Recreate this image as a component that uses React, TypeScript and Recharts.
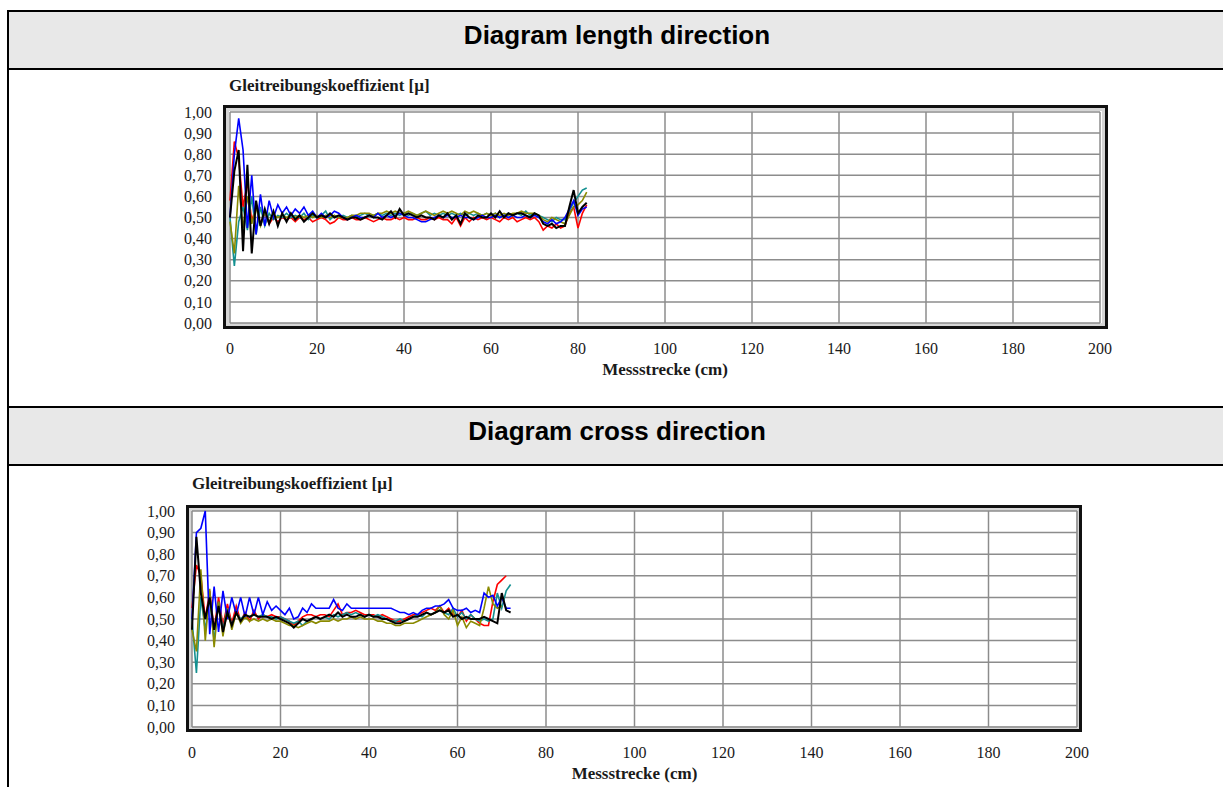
import React from "react";
import { LineChart, Line, XAxis, YAxis, CartesianGrid } from "recharts";

// Gleitreibungskoeffizient, one value per cm of Messstrecke
const lengthBlue = [0.50, 0.80, 0.97, 0.82, 0.45, 0.70, 0.42, 0.61, 0.46, 0.58, 0.50, 0.56, 0.52, 0.55, 0.51, 0.54, 0.52, 0.55, 0.51, 0.53, 0.50, 0.52, 0.50, 0.51, 0.53, 0.52, 0.50, 0.49, 0.50, 0.51, 0.50, 0.50, 0.51, 0.50, 0.52, 0.50, 0.51, 0.50, 0.51, 0.52, 0.51, 0.50, 0.50, 0.49, 0.48, 0.48, 0.49, 0.50, 0.51, 0.50, 0.51, 0.50, 0.50, 0.51, 0.50, 0.50, 0.49, 0.50, 0.51, 0.50, 0.50, 0.51, 0.50, 0.51, 0.50, 0.51, 0.50, 0.50, 0.51, 0.50, 0.51, 0.50, 0.48, 0.47, 0.49, 0.47, 0.48, 0.50, 0.54, 0.58, 0.51, 0.54, 0.55];
const lengthRed = [0.58, 0.86, 0.78, 0.55, 0.67, 0.48, 0.56, 0.47, 0.52, 0.47, 0.50, 0.48, 0.50, 0.49, 0.50, 0.48, 0.50, 0.49, 0.50, 0.48, 0.49, 0.50, 0.49, 0.47, 0.48, 0.50, 0.49, 0.49, 0.50, 0.49, 0.49, 0.50, 0.49, 0.48, 0.49, 0.50, 0.49, 0.49, 0.50, 0.49, 0.50, 0.49, 0.49, 0.50, 0.49, 0.49, 0.50, 0.49, 0.50, 0.49, 0.49, 0.47, 0.50, 0.46, 0.50, 0.48, 0.50, 0.49, 0.50, 0.49, 0.50, 0.49, 0.48, 0.50, 0.49, 0.50, 0.48, 0.49, 0.50, 0.49, 0.50, 0.48, 0.44, 0.46, 0.45, 0.47, 0.45, 0.46, 0.52, 0.55, 0.45, 0.52, 0.56];
const lengthBlack = [0.50, 0.72, 0.82, 0.34, 0.75, 0.33, 0.58, 0.46, 0.54, 0.47, 0.53, 0.46, 0.52, 0.48, 0.52, 0.49, 0.51, 0.48, 0.50, 0.52, 0.50, 0.51, 0.50, 0.52, 0.50, 0.51, 0.50, 0.49, 0.50, 0.50, 0.49, 0.50, 0.51, 0.50, 0.50, 0.49, 0.51, 0.53, 0.50, 0.54, 0.51, 0.52, 0.51, 0.50, 0.51, 0.50, 0.50, 0.49, 0.51, 0.50, 0.52, 0.49, 0.51, 0.47, 0.52, 0.50, 0.49, 0.51, 0.50, 0.50, 0.52, 0.50, 0.53, 0.50, 0.52, 0.51, 0.52, 0.52, 0.51, 0.50, 0.52, 0.51, 0.47, 0.46, 0.47, 0.45, 0.46, 0.46, 0.55, 0.63, 0.52, 0.55, 0.57];
const lengthTeal = [0.50, 0.27, 0.48, 0.55, 0.44, 0.60, 0.42, 0.55, 0.46, 0.52, 0.49, 0.51, 0.50, 0.52, 0.50, 0.51, 0.50, 0.52, 0.49, 0.51, 0.50, 0.51, 0.53, 0.49, 0.51, 0.50, 0.51, 0.50, 0.51, 0.50, 0.51, 0.52, 0.51, 0.51, 0.52, 0.51, 0.52, 0.51, 0.52, 0.51, 0.52, 0.51, 0.52, 0.51, 0.52, 0.53, 0.51, 0.52, 0.51, 0.52, 0.51, 0.52, 0.51, 0.52, 0.51, 0.52, 0.51, 0.52, 0.51, 0.52, 0.51, 0.52, 0.50, 0.51, 0.52, 0.51, 0.52, 0.51, 0.53, 0.51, 0.52, 0.51, 0.50, 0.49, 0.48, 0.50, 0.49, 0.49, 0.53, 0.57, 0.60, 0.63, 0.64];
const lengthOlive = [0.48, 0.33, 0.65, 0.45, 0.60, 0.47, 0.55, 0.46, 0.52, 0.48, 0.51, 0.50, 0.51, 0.50, 0.51, 0.50, 0.51, 0.50, 0.51, 0.50, 0.51, 0.50, 0.51, 0.50, 0.51, 0.50, 0.50, 0.50, 0.51, 0.51, 0.52, 0.52, 0.52, 0.51, 0.52, 0.52, 0.53, 0.52, 0.53, 0.52, 0.52, 0.53, 0.52, 0.51, 0.52, 0.53, 0.52, 0.51, 0.52, 0.53, 0.52, 0.53, 0.52, 0.51, 0.53, 0.52, 0.53, 0.52, 0.51, 0.52, 0.51, 0.52, 0.51, 0.52, 0.51, 0.52, 0.52, 0.53, 0.52, 0.52, 0.52, 0.51, 0.49, 0.48, 0.50, 0.49, 0.48, 0.47, 0.51, 0.55, 0.56, 0.58, 0.62];

const crossBlue = [0.50, 0.90, 0.92, 1.00, 0.43, 0.65, 0.44, 0.63, 0.50, 0.60, 0.52, 0.60, 0.51, 0.60, 0.52, 0.60, 0.52, 0.58, 0.54, 0.56, 0.54, 0.52, 0.55, 0.50, 0.51, 0.55, 0.53, 0.57, 0.55, 0.55, 0.55, 0.55, 0.59, 0.55, 0.54, 0.57, 0.55, 0.55, 0.55, 0.55, 0.55, 0.55, 0.55, 0.55, 0.55, 0.55, 0.54, 0.53, 0.53, 0.52, 0.53, 0.52, 0.54, 0.55, 0.55, 0.56, 0.56, 0.57, 0.59, 0.55, 0.54, 0.54, 0.55, 0.53, 0.54, 0.53, 0.62, 0.60, 0.61, 0.56, 0.60, 0.55, 0.55];
const crossRed = [0.55, 0.75, 0.70, 0.50, 0.63, 0.45, 0.60, 0.47, 0.57, 0.48, 0.56, 0.49, 0.53, 0.49, 0.54, 0.50, 0.52, 0.51, 0.52, 0.51, 0.51, 0.50, 0.49, 0.47, 0.49, 0.51, 0.52, 0.52, 0.51, 0.52, 0.52, 0.51, 0.54, 0.57, 0.52, 0.53, 0.53, 0.54, 0.53, 0.52, 0.52, 0.52, 0.51, 0.52, 0.51, 0.50, 0.49, 0.49, 0.50, 0.51, 0.52, 0.52, 0.53, 0.54, 0.55, 0.54, 0.56, 0.53, 0.55, 0.52, 0.51, 0.54, 0.49, 0.52, 0.50, 0.48, 0.47, 0.47, 0.58, 0.66, 0.68, 0.70];
const crossBlack = [0.45, 0.88, 0.62, 0.50, 0.60, 0.45, 0.56, 0.44, 0.53, 0.47, 0.53, 0.49, 0.52, 0.51, 0.52, 0.51, 0.51, 0.51, 0.50, 0.51, 0.50, 0.49, 0.48, 0.46, 0.48, 0.50, 0.49, 0.50, 0.51, 0.50, 0.51, 0.52, 0.51, 0.53, 0.51, 0.52, 0.51, 0.51, 0.52, 0.51, 0.52, 0.51, 0.51, 0.50, 0.50, 0.49, 0.48, 0.48, 0.49, 0.50, 0.51, 0.51, 0.52, 0.53, 0.52, 0.53, 0.54, 0.53, 0.54, 0.51, 0.52, 0.50, 0.51, 0.50, 0.50, 0.50, 0.51, 0.50, 0.49, 0.48, 0.62, 0.54, 0.53];
const crossTeal = [0.50, 0.25, 0.60, 0.45, 0.60, 0.40, 0.58, 0.45, 0.55, 0.47, 0.53, 0.50, 0.52, 0.51, 0.52, 0.51, 0.52, 0.51, 0.51, 0.50, 0.51, 0.50, 0.49, 0.48, 0.49, 0.47, 0.49, 0.50, 0.51, 0.50, 0.51, 0.50, 0.52, 0.51, 0.52, 0.53, 0.52, 0.53, 0.52, 0.51, 0.52, 0.51, 0.52, 0.51, 0.50, 0.49, 0.49, 0.50, 0.49, 0.50, 0.51, 0.52, 0.51, 0.53, 0.52, 0.53, 0.54, 0.53, 0.52, 0.55, 0.51, 0.53, 0.50, 0.52, 0.50, 0.49, 0.50, 0.49, 0.50, 0.62, 0.55, 0.63, 0.66];
const crossOlive = [0.45, 0.35, 0.73, 0.40, 0.64, 0.37, 0.58, 0.42, 0.55, 0.45, 0.53, 0.48, 0.51, 0.49, 0.50, 0.49, 0.50, 0.49, 0.50, 0.49, 0.49, 0.48, 0.47, 0.47, 0.46, 0.47, 0.48, 0.49, 0.48, 0.49, 0.49, 0.49, 0.50, 0.49, 0.50, 0.50, 0.51, 0.50, 0.51, 0.50, 0.50, 0.50, 0.49, 0.49, 0.48, 0.48, 0.47, 0.47, 0.48, 0.48, 0.48, 0.49, 0.50, 0.51, 0.52, 0.53, 0.56, 0.52, 0.50, 0.54, 0.47, 0.51, 0.46, 0.49, 0.48, 0.47, 0.55, 0.65, 0.57, 0.55, 0.56];

const xTicks = [0, 20, 40, 60, 80, 100, 120, 140, 160, 180, 200];
const yTicks = [0, 0.1, 0.2, 0.3, 0.4, 0.5, 0.6, 0.7, 0.8, 0.9, 1.0];

const serif = '"Liberation Serif", "Times New Roman", serif';
const sans = '"Liberation Sans", Arial, sans-serif';

const seriesStyle = [
  { key: "red", color: "#ff0000", width: 1.6 },
  { key: "teal", color: "#139090", width: 1.6 },
  { key: "olive", color: "#8a8a00", width: 1.6 },
  { key: "blue", color: "#0000ff", width: 1.6 },
  { key: "black", color: "#000000", width: 2 },
];

function buildRows(s: Record<string, number[]>) {
  const n = Math.max(...Object.values(s).map((a) => a.length));
  return Array.from({ length: n }, (_, i) => {
    const row: Record<string, number | undefined> = { x: i };
    for (const k of Object.keys(s)) row[k] = s[k][i];
    return row;
  });
}

const lengthRows = buildRows({ blue: lengthBlue, red: lengthRed, black: lengthBlack, teal: lengthTeal, olive: lengthOlive });
const crossRows = buildRows({ blue: crossBlue, red: crossRed, black: crossBlack, teal: crossTeal, olive: crossOlive });

const fmt = (v: number) => v.toFixed(2).replace(".", ",");

type PanelProps = {
  rows: any[];
  left: number;
  top: number;
  width: number;
  height: number;
  margin: { top: number; right: number; bottom: number; left: number };
  yWidth: number;
  yTickMargin: number;
  frame: { left: number; top: number; width: number; height: number };
  title: { left: number; top: number };
};

function FrictionPanel(p: PanelProps) {
  const tick = { fill: "#1a1a1a", fontSize: 16, fontFamily: serif };
  return (
    <>
      <div
        style={{
          position: "absolute",
          left: p.title.left,
          top: p.title.top,
          fontFamily: serif,
          fontWeight: "bold",
          fontSize: 17,
          lineHeight: "20px",
          color: "#1a1a1a",
          whiteSpace: "nowrap",
        }}
      >
        Gleitreibungskoeffizient [µ]
      </div>
      <div
        style={{
          position: "absolute",
          left: p.frame.left,
          top: p.frame.top,
          width: p.frame.width,
          height: p.frame.height,
          boxSizing: "border-box",
          border: "3px solid #111",
          boxShadow: "inset 0 0 0 3px #d6d6d6",
        }}
      />
      <div style={{ position: "absolute", left: p.left, top: p.top }}>
        <LineChart width={p.width} height={p.height} data={p.rows} margin={p.margin}>
          <CartesianGrid stroke="#8c8c8c" strokeWidth={1.5} />
          <XAxis
            dataKey="x"
            type="number"
            domain={[0, 200]}
            ticks={xTicks}
            axisLine={false}
            tickLine={false}
            tickMargin={14}
            height={60}
            tick={tick}
            label={{
              value: "Messstrecke (cm)",
              position: "insideBottom",
              offset: 8,
              style: { fill: "#1a1a1a", fontFamily: serif, fontWeight: "bold", fontSize: 17 },
            }}
          />
          <YAxis
            type="number"
            domain={[0, 1]}
            ticks={yTicks}
            tickFormatter={fmt}
            axisLine={false}
            tickLine={false}
            tickMargin={p.yTickMargin}
            width={p.yWidth}
            tick={tick}
            interval={0}
          />
          {seriesStyle.map((s) => (
            <Line
              key={s.key}
              type="linear"
              dataKey={s.key}
              stroke={s.color}
              strokeWidth={s.width}
              dot={false}
              activeDot={false}
              isAnimationActive={false}
            />
          ))}
        </LineChart>
      </div>
    </>
  );
}

function Header({ top, text }: { top: number; text: string }) {
  return (
    <>
      <div style={{ position: "absolute", left: 7, top, width: 1220, height: 2, background: "#000" }} />
      <div style={{ position: "absolute", left: 9, top: top + 2, width: 1216, height: 56, background: "#e8e8e8" }} />
      <div
        style={{
          position: "absolute",
          left: 8,
          top: top + 10,
          width: 1218,
          textAlign: "center",
          fontFamily: sans,
          fontWeight: "bold",
          fontSize: 26,
          lineHeight: "30px",
          color: "#000",
          whiteSpace: "nowrap",
        }}
      >
        {text}
      </div>
      <div style={{ position: "absolute", left: 7, top: top + 58, width: 1220, height: 2, background: "#000" }} />
    </>
  );
}

export default function App() {
  return (
    <div style={{ position: "absolute", left: 0, top: 0, width: 1223, height: 787, overflow: "hidden", background: "#fff" }}>
      <div style={{ position: "absolute", left: 7, top: 10, width: 2, height: 777, background: "#000" }} />
      <Header top={10} text="Diagram length direction" />
      <FrictionPanel
        rows={lengthRows}
        left={140}
        top={80}
        width={1000}
        height={310}
        margin={{ top: 32, right: 40, bottom: 7, left: 0 }}
        yWidth={90}
        yTickMargin={12}
        frame={{ left: 223, top: 105, width: 885, height: 224 }}
        title={{ left: 229, top: 76 }}
      />
      <Header top={406} text="Diagram cross direction" />
      <FrictionPanel
        rows={crossRows}
        left={100}
        top={480}
        width={1000}
        height={314}
        margin={{ top: 31, right: 23, bottom: 7, left: 0 }}
        yWidth={92}
        yTickMargin={11}
        frame={{ left: 186, top: 505, width: 896, height: 227 }}
        title={{ left: 192, top: 474 }}
      />
    </div>
  );
}
